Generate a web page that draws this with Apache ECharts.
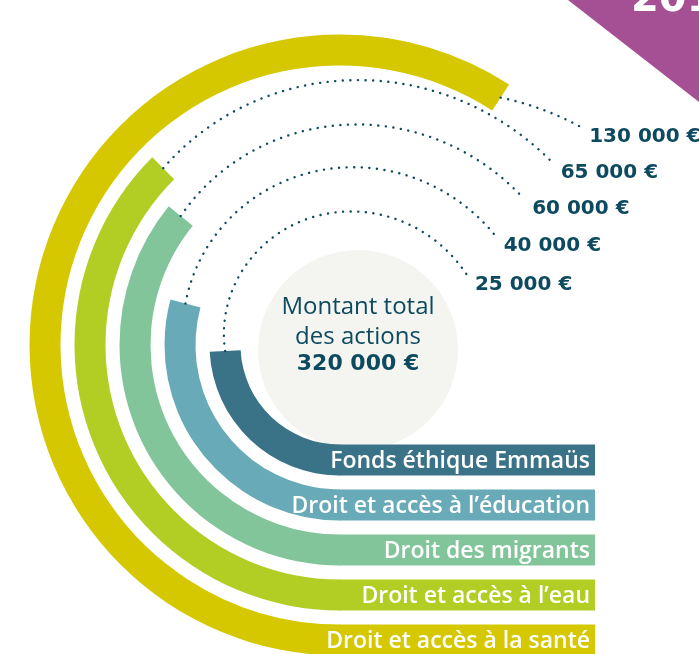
<!DOCTYPE html>
<html>
<head>
<meta charset="utf-8">
<script src="https://cdn.jsdelivr.net/npm/echarts@6/dist/echarts.min.js"></script>
<style>
  html, body { margin: 0; padding: 0; background: #fff; }
  #chart { width: 699px; height: 654px; }
</style>
</head>
<body>
<div id="chart"></div>
<script>
// inner ring first
const categories = ['Fonds éthique Emmaüs', 'Droit et accès à l’éducation', 'Droit des migrants', 'Droit et accès à l’eau', 'Droit et accès à la santé'];
const amounts = [25000, 40000, 60000, 65000, 130000];
const colors = ['#3a7287', '#68aab7', '#83c59b', '#b2cd23', '#d6c800'];
const totalTitle = ['Montant total', 'des actions'];

const angleMin = -47500;
const angleMax = 252500;
const barW = 31;
const navy = '#0d4a5f';

const fmt = v => String(v).replace(/\B(?=(\d{3})+(?!\d))/g, ' ') + ' €';
const total = amounts.reduce((a, b) => a + b, 0);

function renderItem(params, api) {
  const i = api.value(0);
  const v = api.value(1);
  const cx = params.coordSys.cx, cy = params.coordSys.cy;
  const base = api.coord([i, angleMin]);
  const r = Math.hypot(base[0] - cx, base[1] - cy);
  const end = api.coord([i, v]);
  // angle measured from the bottom, clockwise on screen
  let phi0 = Math.atan2(end[1] - cy, end[0] - cx) - Math.PI / 2;
  while (phi0 < 0) phi0 += Math.PI * 2;
  const phi1 = (219.5 + 2480 / r) * Math.PI / 180;
  const pts = [];
  const n = 80;
  for (let k = 0; k <= n; k++) {
    const t = k / n;
    const a = phi0 + (phi1 - phi0) * t + Math.PI / 2;
    const rr = r + 30 * t;
    pts.push([cx + rr * Math.cos(a), cy + rr * Math.sin(a)]);
  }
  const last = pts[pts.length - 1];
  return {
    type: 'group',
    children: [
      {
        type: 'rect',
        shape: { x: cx - 1, y: base[1] - barW / 2, width: 595 - cx + 1, height: barW },
        style: { fill: colors[i] }
      },
      {
        type: 'text',
        style: {
          text: categories[i], x: 590, y: base[1] + 1,
          align: 'right', verticalAlign: 'middle',
          fill: '#fff', font: '600 23px "Open Sans"'
        }
      },
      {
        type: 'polyline',
        shape: { points: pts },
        style: { stroke: navy, lineWidth: 2.4, lineDash: [0.1, 7.5], lineCap: 'round', fill: null }
      },
      {
        type: 'text',
        style: {
          text: fmt(v), x: last[0] + 8, y: last[1] + 10,
          align: 'left', verticalAlign: 'middle',
          fill: navy, font: 'bold 20px "DejaVu Sans"'
        }
      }
    ]
  };
}

const chart = echarts.init(document.getElementById('chart'));
chart.setOption({
  animation: false,
  backgroundColor: '#fff',
  polar: { center: [340, 345], radius: [92.5, 317.5] },
  angleAxis: {
    type: 'value', min: angleMin, max: angleMax, startValue: angleMin,
    startAngle: 270, clockwise: true, show: false
  },
  radiusAxis: {
    type: 'category', data: categories, show: false
  },
  graphic: [
    { type: 'circle', shape: { cx: 358, cy: 350, r: 100 }, style: { fill: '#f4f4f0' }, z: 0 },
    { type: 'text', z: 10, style: { text: totalTitle[0], x: 358, y: 307, align: 'center', verticalAlign: 'middle', fill: navy, font: '24px "Open Sans"' } },
    { type: 'text', z: 10, style: { text: totalTitle[1], x: 358, y: 337, align: 'center', verticalAlign: 'middle', fill: navy, font: '24px "Open Sans"' } },
    { type: 'text', z: 10, style: { text: fmt(total), x: 358, y: 364, align: 'center', verticalAlign: 'middle', fill: navy, font: 'bold 22px "DejaVu Sans"' } },
    { type: 'polygon', shape: { points: [[568, 0], [699, 0], [699, 102]] }, style: { fill: '#a54f95' }, z: 0 },
    { type: 'text', z: 10, style: { text: '2019', x: 631, y: 21, align: 'left', verticalAlign: 'bottom', fill: '#fff', font: 'bold 40px "DejaVu Sans"' } }
  ],
  series: [
    {
      type: 'bar',
      coordinateSystem: 'polar',
      barWidth: barW,
      z: 2,
      data: amounts.map((v, i) => ({ value: v, itemStyle: { color: colors[i] } }))
    },
    {
      type: 'custom',
      coordinateSystem: 'polar',
      z: 3,
      renderItem: renderItem,
      data: amounts.map((v, i) => [i, v])
    }
  ]
});
</script>
</body>
</html>
